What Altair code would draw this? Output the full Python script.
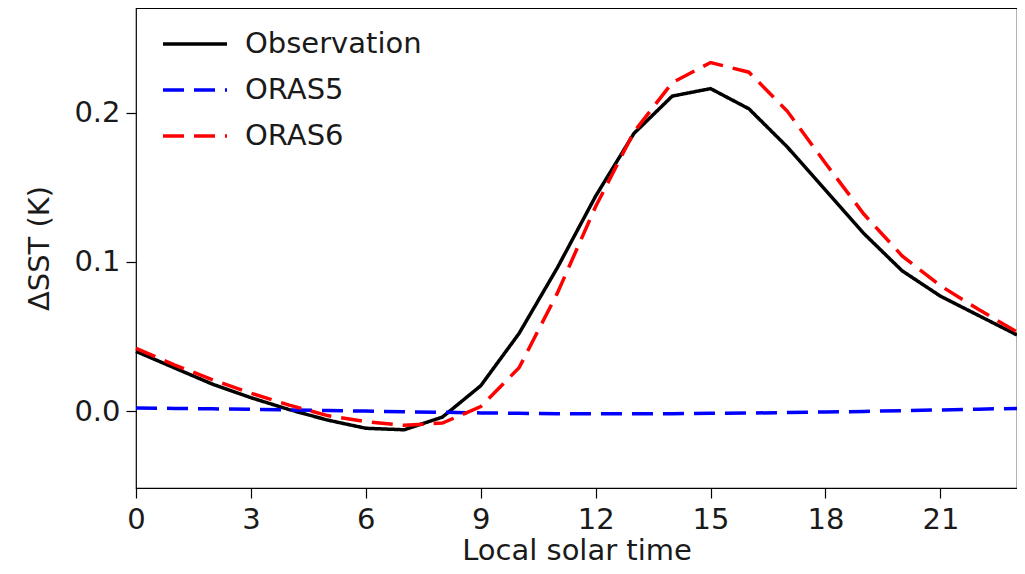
import altair as alt
import pandas as pd

hours = list(range(24))
series_names = ["Observation", "ORAS5", "ORAS6"]
observation = [0.040, 0.029, 0.018, 0.009, 0.001, -0.006, -0.0115, -0.0125, -0.004, 0.017,
               0.052, 0.096, 0.144, 0.186, 0.211, 0.216, 0.2025, 0.177, 0.148, 0.119,
               0.094, 0.077, 0.064, 0.051]
oras5 = [0.002, 0.0018, 0.0015, 0.0012, 0.0008, 0.0004, 0.0, -0.0004, -0.0008, -0.0012,
         -0.0015, -0.0017, -0.0018, -0.0018, -0.0017, -0.0015, -0.0013, -0.001, -0.0006, -0.0002,
         0.0003, 0.0008, 0.0013, 0.0018]
oras6 = [0.042, 0.031, 0.021, 0.012, 0.004, -0.003, -0.007, -0.0095, -0.008, 0.003,
         0.029, 0.079, 0.137, 0.187, 0.220, 0.2335, 0.227, 0.201, 0.166, 0.132,
         0.104, 0.084, 0.068, 0.053]
x_ticks = [0, 3, 6, 9, 12, 15, 18, 21]
y_ticks = [0.0, 0.1, 0.2]

rows = []
for name, vals in zip(series_names, [observation, oras5, oras6]):
    for h, v in zip(hours, vals):
        rows.append({"hour": h, "value": v, "series": name})
df = pd.DataFrame(rows)

FONT = "DejaVu Sans"
TXT = "#1a1a1a"
legend_cfg = dict(
    title=None,
    orient="none",
    legendX=41,
    legendY=18,
    symbolType="M-2,0L2,0",
    symbolSize=1024,
    symbolStrokeWidth=3.5,
    labelFontSize=29,
    labelFont=FONT,
    labelColor=TXT,
    labelOffset=32,
    labelLimit=500,
    rowPadding=13,
    padding=0,
)

chart = alt.Chart(df).mark_line(strokeWidth=3.5).encode(
    x=alt.X("hour:Q",
            scale=alt.Scale(domain=[0, 23], nice=False, zero=False),
            axis=alt.Axis(values=x_ticks, title="Local solar time", format="d",
                          labelFlush=False)),
    y=alt.Y("value:Q",
            scale=alt.Scale(domain=[-0.0515, 0.270], nice=False, zero=False),
            axis=alt.Axis(values=y_ticks, title="ΔSST (K)", format=".1f",
                          labelFlush=False)),
    color=alt.Color("series:N",
                    scale=alt.Scale(domain=series_names, range=["black", "blue", "red"]),
                    legend=alt.Legend(**legend_cfg)),
    strokeDash=alt.StrokeDash("series:N",
                              scale=alt.Scale(domain=series_names,
                                              range=[[1, 0], [21, 10], [21, 10]]),
                              legend=alt.Legend(**legend_cfg)),
    order=alt.Order("hour:Q"),
).properties(
    width=881,
    height=480,
    autosize=alt.AutoSizeParams(type="none"),
    padding={"left": 128, "top": 0, "right": 0, "bottom": 78},
).configure_view(
    stroke="black", strokeWidth=1.2
).configure_axis(
    grid=False,
    domain=False,
    ticks=True,
    tickSize=10,
    tickColor="black",
    tickWidth=1.2,
    labelFont=FONT,
    labelFontSize=29,
    labelColor=TXT,
    titleFont=FONT,
    titleFontSize=29,
    titleFontWeight="normal",
    titleColor=TXT,
).configure_axisX(
    labelPadding=7,
    titlePadding=2,
).configure_axisY(
    labelPadding=6,
    titlePadding=19,
)

chart.save("out.html", embed_options={"renderer": "svg", "actions": False})
